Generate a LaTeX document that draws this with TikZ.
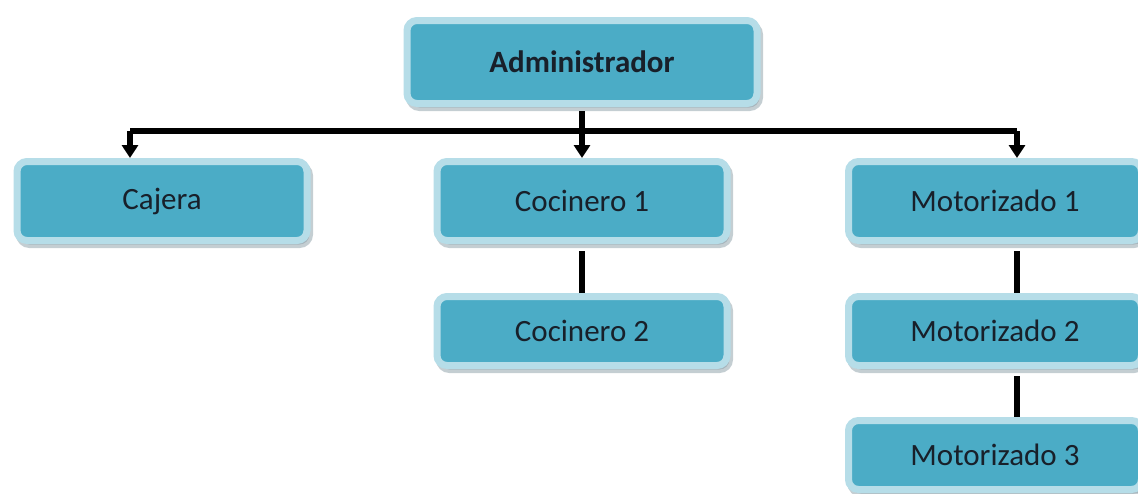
\documentclass[tikz,border=0pt]{standalone}
\usepackage{fontspec}
\setmainfont{Carlito}
\usetikzlibrary{arrows.meta,shadows}

\definecolor{boxfill}{HTML}{4BACC6}
\definecolor{boxrim}{HTML}{B6DDE8}
\definecolor{boxshade}{HTML}{8A9DA6}
\definecolor{boxtext}{HTML}{18202A}

\begin{document}
\begin{tikzpicture}[x=1pt, y=-1pt]
% whole picture in pixel units ^

\tikzstyle{box}   = [draw = boxrim, fill = boxfill, line width = 7pt, rounded corners = 10pt,
                     minimum width = 290pt, minimum height = 79pt, text = boxtext,
                     font = \fontsize{31}{34}\selectfont,
                     drop shadow = {shadow xshift = 2.5pt, shadow yshift = -4pt, fill = boxshade, draw = boxshade, line width = 7pt}] % org chart box
\tikzstyle{link}  = [line width = 5.5pt, color = black] % plain connector
\tikzstyle{arrow} = [link, -{Triangle[width = 16pt, length = 13pt]}] % connector with tip

\useasboundingbox (0,0) rectangle (1138,493);

% top of the chart
\node(admin)[box, minimum width=350pt, minimum height=83pt, font=\fontsize{31}{34}\selectfont\bfseries] at (582,62){Administrador};

% second level
\node(coc1)[box] at (582,201){Cocinero 1};
\node(cajera)[box, left of=coc1, node distance=420pt]{Cajera};
\node(mot1)[box, minimum width=293pt, right of=coc1, node distance=413pt]{Motorizado 1};

% chains below
\node(coc2)[box, minimum height=69pt, below of=coc1, node distance=130pt]{Cocinero 2};
\node(mot2)[box, minimum width=293pt, minimum height=69pt, below of=mot1, node distance=130pt]{Motorizado 2};
\node(mot3)[box, minimum width=293pt, minimum height=69pt, below of=mot2, node distance=124pt]{Motorizado 3};

% bus ends
\coordinate(busL) at (130,131);
\coordinate(busR) at (1017,131);

% arrows
\draw[link](busL)--(busR);
\draw[arrow](busL)--(busL |- cajera.north);
\draw[arrow](busR)--(busR |- mot1.north);
\draw[arrow](admin.south)++(0,4)--(coc1.north);

\draw[link](coc1.south)++(0,7)--(coc2.north);
\draw[link](mot1.south -| busR)++(0,7)--(mot2.north -| busR);
\draw[link](mot2.south -| busR)++(0,7)--(mot3.north -| busR);
\end{tikzpicture}
\end{document}
